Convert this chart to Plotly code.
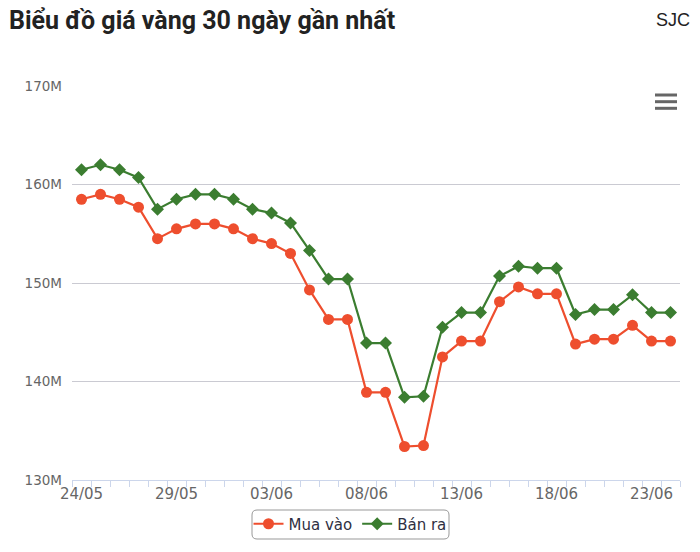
import plotly.graph_objects as go

# 30-day gold price (SJC), millions VND
dates = ['24/05', '25/05', '26/05', '27/05', '28/05', '29/05', '30/05', '31/05',
         '01/06', '02/06', '03/06', '04/06', '05/06', '06/06', '07/06', '08/06',
         '09/06', '10/06', '11/06', '12/06', '13/06', '14/06', '15/06', '16/06',
         '17/06', '18/06', '19/06', '20/06', '21/06', '22/06', '23/06', '24/06']

mua_vao = [158.5, 159.0, 158.5, 157.7, 154.5, 155.5, 156.0, 156.0,
           155.5, 154.5, 154.0, 153.0, 149.3, 146.3, 146.3, 138.9,
           138.9, 133.4, 133.5, 142.5, 144.1, 144.1, 148.1, 149.6,
           148.9, 148.9, 143.8, 144.3, 144.3, 145.7, 144.1, 144.1]

ban_ra = [161.5, 162.0, 161.5, 160.7, 157.5, 158.5, 159.0, 159.0,
          158.5, 157.5, 157.1, 156.1, 153.3, 150.4, 150.4, 143.9,
          143.9, 138.4, 138.5, 145.5, 147.0, 147.0, 150.7, 151.7,
          151.5, 151.5, 146.8, 147.3, 147.3, 148.8, 147.0, 147.0]

y_ticks = [130, 140, 150, 160, 170]
y_labels = ['130M', '140M', '150M', '160M', '170M']

RED = '#ee4e2e'
GREEN = '#3b7d30'

idx = list(range(len(dates)))
fig = go.Figure()
fig.add_trace(go.Scatter(
    x=idx, y=[v * 1e6 for v in mua_vao], name='Mua vào', mode='lines+markers',
    line=dict(color=RED, width=2.2), marker=dict(symbol='circle', size=11, color=RED)))
fig.add_trace(go.Scatter(
    x=idx, y=[v * 1e6 for v in ban_ra], name='Bán ra', mode='lines+markers',
    line=dict(color=GREEN, width=2.2), marker=dict(symbol='diamond', size=10, color=GREEN)))

W, H = 700, 552

# plot area in pixels: x 72..680, y 86..480
PW, PH = 608, 394
def px(x):
    return (x - 72) / PW
def py(y):
    return (480 - y) / PH

def rounded_box(x0, y0, x1, y1, r):
    rx, ry = r / PW, r / PH
    a0, a1, b0, b1 = px(x0), px(x1), py(y1), py(y0)
    return (f'M {a0+rx},{b0} L {a1-rx},{b0} Q {a1},{b0} {a1},{b0+ry} '
            f'L {a1},{b1-ry} Q {a1},{b1} {a1-rx},{b1} L {a0+rx},{b1} '
            f'Q {a0},{b1} {a0},{b1-ry} L {a0},{b0+ry} Q {a0},{b0} {a0+rx},{b0} Z')

shapes = [dict(type='path', xref='paper', yref='paper',
               path=rounded_box(252, 510, 449, 539, 5),
               line=dict(color='#999999', width=1), fillcolor='rgba(0,0,0,0)')]
# export menu icon
for yy in (95, 101.7, 108.3):
    shapes.append(dict(type='line', xref='paper', yref='paper',
                       x0=px(655), x1=px(677), y0=py(yy), y1=py(yy),
                       line=dict(color='#666666', width=3)))

fig.update_layout(
    width=W, height=H,
    margin=dict(l=72, r=700 - 680, t=86, b=552 - 480),
    paper_bgcolor='white', plot_bgcolor='white',
    title=dict(text='<b>Biểu đồ giá vàng 30 ngày gần nhất</b>',
               font=dict(family='Roboto', size=25, color='#222222'),
               x=9 / W, xanchor='left', y=1 - 20 / H, yanchor='middle'),
    showlegend=True,
    legend=dict(orientation='h', x=px(350), xanchor='center', y=py(524), yanchor='middle',
                font=dict(family='DejaVu Sans', size=15, color='#2f3042'),
                bgcolor='rgba(0,0,0,0)', borderwidth=0, itemwidth=30),
    shapes=shapes,
    annotations=[dict(text='SJC', xref='paper', yref='paper', x=px(692), y=py(20),
                      xanchor='right', yanchor='middle', showarrow=False,
                      font=dict(family='Liberation Sans', size=18, color='#222222'))],
)

fig.update_xaxes(
    range=[-0.5, len(dates) - 0.5],
    tickvals=idx[::5], ticktext=dates[::5],
    tickfont=dict(family='DejaVu Sans', size=15, color='#666666'),
    ticks='', showgrid=False, zeroline=False,
    showline=True, linecolor='#ccd6eb', linewidth=1,
    minor=dict(ticks='outside', tick0=-0.5, dtick=1, ticklen=6,
               tickcolor='#ccd6eb', showgrid=False),
)
fig.update_yaxes(
    range=[130e6, 170e6],
    tickvals=[v * 1e6 for v in y_ticks], ticktext=y_labels,
    tickfont=dict(family='DejaVu Sans', size=13.5, color='#666666'),
    showgrid=True, gridcolor='#cacad2', gridwidth=1, zeroline=False,
    ticks='', ticklabelstandoff=9,
)

# drop the default page margin so the 700x552 figure fills the window
fig.write_html('out.html', config={'displayModeBar': False},
               post_script="document.body.style.margin='0';")
